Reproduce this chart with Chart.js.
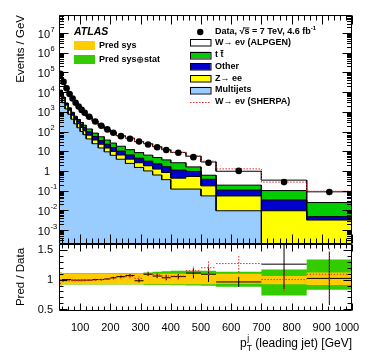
<!DOCTYPE html>
<html><head><meta charset="utf-8">
<script src="https://cdn.jsdelivr.net/npm/chart.js@4.4.1/dist/chart.umd.min.js"></script>
<style>
html,body{margin:0;padding:0;background:#fff;}
#wrap{position:relative;width:374px;height:359px;background:#fff;}
canvas{position:absolute;left:0;top:0;}
</style></head><body>
<div id="wrap"><canvas id="ratio" width="374" height="359"></canvas><canvas id="main" width="374" height="359"></canvas></div>
<script>
// ---------------- data ----------------
const binEdges = [30,40,50,60,70,80,90,100,110,120,140,160,180,200,220,250,280,310,340,370,400,450,500,550,700,850,1000];
const dataValues = [85000,33000,15500,8000,4700,2900,1850,1250,900,560,320,195,128,86,58,43,31,22,16,11.5,8.3,5.0,2.6,1.0,0.27,0.085];
const multijets = [6900,2900,1400,750,420,245,155,100,69,42,24,14.6,9.3,6.2,3.9,2.4,1.5,1.0,0.62,0.36,0.12,0.12,0.054,0.0095,0,0];
const zee       = [3800,1700,810,450,255,150,95,61,40,23,13,8.1,5.2,3.6,2.5,1.56,1.1,0.82,0.62,0.47,0.31,0.40,0.12,0.044,0.0095,0.0032];
const other     = [1500,780,450,290,190,130,95,70,50,32,19,11.9,8.1,5.5,3.7,2.5,1.8,1.3,1.05,0.8,0.67,0.42,0.2,0.053,0.024,0.0016];
const ttbar     = [380,220,140,110,85,72,65,58,50,38,27,19.4,14.4,10.7,7.7,5.5,4.1,3.2,2.5,2.0,1.5,0.66,0.23,0.083,0.067,0.020];
const wAlpgen   = [71500,27400,12700,6400,3700,2270,1420,950,680,420,237,141,92,62.6,43.1,34,21.9,17.7,12.2,8.25,6.1,3.95,2.23,0.77,0.24,0.062];
const sherpaTotal = [79900,32000,15200,7840,4600,2840,1810,1225,880,554,317,195,129,87.7,60.3,45.2,31.6,24.2,17.3,12.2,8.8,5.75,3.12,1.27,0.27,0.093];

const ratioAlpgen    = [0.99,1.0,1.0,1.0,0.99,0.99,0.99,0.99,0.99,0.99,1.0,1.0,1.01,1.03,1.05,1.07,0.98,1.09,1.06,1.03,1.05,1.11,1.09,0.96,1.26,1.02];
const ratioAlpgenErr = [0.004,0.004,0.005,0.005,0.006,0.007,0.008,0.009,0.01,0.01,0.012,0.014,0.016,0.018,0.02,0.024,0.028,0.032,0.036,0.042,0.045,0.09,0.13,0.085,0.42,0.45];
const ratioSherpa    = [0.94,0.97,0.98,0.98,0.98,0.98,0.98,0.98,0.98,0.99,0.99,1.0,1.01,1.02,1.04,1.05,1.02,1.10,1.08,1.06,1.06,1.15,1.2,1.27,1.0,1.09];
const ratioSherpaErr = [0.02,0.01,0.01,0.01,0.01,0.01,0.01,0.012,0.012,0.014,0.016,0.018,0.02,0.022,0.025,0.03,0.035,0.04,0.045,0.05,0.055,0.08,0.12,0.15,0.2,0.45];
const sysLo = [0.9,0.92,0.92,0.92,0.92,0.92,0.92,0.92,0.92,0.92,0.92,0.92,0.92,0.92,0.92,0.92,0.92,0.92,0.92,0.92,0.92,0.92,0.92,0.93,0.92,0.91];
const sysHi = [1.12,1.1,1.1,1.1,1.1,1.1,1.1,1.1,1.1,1.1,1.1,1.1,1.1,1.1,1.1,1.1,1.1,1.1,1.1,1.1,1.1,1.1,1.1,1.1,1.06,1.12];
const totLo = [0.9,0.915,0.915,0.915,0.915,0.915,0.915,0.915,0.915,0.915,0.915,0.915,0.915,0.915,0.915,0.915,0.915,0.91,0.91,0.91,0.905,0.9,0.895,0.88,0.73,0.83];
const totHi = [1.12,1.105,1.105,1.105,1.105,1.105,1.105,1.105,1.105,1.105,1.105,1.105,1.105,1.105,1.105,1.105,1.105,1.12,1.13,1.14,1.15,1.15,1.15,1.13,1.17,1.34];

const xTickLabels = [100,200,300,400,500,600,700,800,900,1000];
const yDecades = [-3,-2,-1,0,1,2,3,4,5,6,7];
const ratioTickLabels = [0.5,1,1.5];

// ---------------- helpers ----------------
const Y_MIN = 1.95e-4, Y_MAX = 8.2e7;
const R_MIN = 0.47, R_MAX = 1.6;
const FF = '"Liberation Sans", Arial, Helvetica, sans-serif';
const centers = binEdges.slice(0, -1).map((e, i) => (e + binEdges[i + 1]) / 2);

function histPoints(vals, floor) {
  const pts = [];
  vals.forEach((v, i) => {
    const y = v > 0 ? v : floor;
    pts.push({x: binEdges[i], y}, {x: binEdges[i + 1], y});
  });
  return pts;
}
function cumulate(...arrs) { return arrs[0].map((_, i) => arrs.reduce((s, a) => s + a[i], 0)); }
function crossPoints(vals, errs) {
  const pts = [];
  vals.forEach((v, i) => {
    pts.push({x: binEdges[i], y: v}, {x: binEdges[i + 1], y: v}, {x: binEdges[i + 1], y: null});
    pts.push({x: centers[i], y: v - errs[i]}, {x: centers[i], y: v + errs[i]}, {x: centers[i], y: null});
  });
  return pts;
}
function rich(ctx, parts, x, y, align) {
  let w = 0;
  for (const p of parts) { ctx.font = p.f; if (p.adv !== false) w += (p.w !== undefined ? p.w : ctx.measureText(p.t).width); }
  let cx = align === 'right' ? x - w : (align === 'center' ? x - w / 2 : x);
  for (const p of parts) {
    ctx.font = p.f;
    const pw = p.w !== undefined ? p.w : ctx.measureText(p.t).width;
    if (p.draw) p.draw(cx, y); else ctx.fillText(p.t, cx + (p.dx || 0), y + (p.dy || 0));
    if (p.over !== undefined) ctx.fillRect(cx + (p.ox || 0), y + p.over, pw - (p.ox || 0), 0.9);
    if (p.adv !== false) cx += pw;
  }
  return w;
}

function frameAndTicks(chart, cfg) {
  const {ctx, chartArea: a, scales} = chart;
  const xs = scales.x, ys = scales.y;
  const L = Math.round(a.left) + 0.5, R = Math.round(a.right) - 0.5;
  const T = Math.round(a.top) + 0.5, B = Math.round(a.bottom) - 0.5;
  ctx.save();
  ctx.strokeStyle = '#000'; ctx.lineWidth = 1;
  ctx.beginPath();
  ctx.rect(L, T, R - L, B - T);
  for (let v = 40; v <= 1000; v += 20) {
    const px = Math.round(xs.getPixelForValue(v)) + 0.5;
    const len = v % 100 === 0 ? cfg.xMaj : cfg.xMin;
    ctx.moveTo(px, B); ctx.lineTo(px, B - len);
    ctx.moveTo(px, T); ctx.lineTo(px, T + len);
  }
  for (const [v, major] of cfg.yTicks) {
    if (v < ys.min || v > ys.max) continue;
    const py = Math.round(ys.getPixelForValue(v)) + 0.5;
    const len = major ? cfg.yMaj : cfg.yMin;
    ctx.moveTo(L, py); ctx.lineTo(L + len, py);
    ctx.moveTo(R, py); ctx.lineTo(R - len, py);
  }
  ctx.stroke();
  ctx.restore();
}

// ---------------- main panel plugin ----------------
const mainPlugin = {
  id: 'mainDecor',
  afterDraw(chart) {
    const yt = [];
    for (let d = -4; d <= 7; d++) for (let k = 1; k <= 9; k++) yt.push([k * Math.pow(10, d), k === 1]);
    frameAndTicks(chart, {xMaj: 9, xMin: 5, yMaj: 9, yMin: 4.5, yTicks: yt});
    const {ctx, scales} = chart;
    const ys = scales.y;
    ctx.save();
    ctx.fillStyle = '#000';
    ctx.textBaseline = 'middle';
    for (const e of yDecades) {
      const py = ys.getPixelForValue(Math.pow(10, e));
      ctx.font = '11px ' + FF; ctx.textAlign = 'right';
      if (e === 0 || e === 1) {
        ctx.fillText(e === 0 ? '1' : '10', 50, py + 1);
      } else {
        ctx.fillText('10', 50, py + 1.5);
        ctx.font = '7.5px ' + FF; ctx.textAlign = 'left';
        ctx.fillText(String(e), 50.5, py - 3.5);
      }
    }
    ctx.save();
    ctx.translate(21, 15);
    ctx.rotate(-Math.PI / 2);
    ctx.font = '11.5px ' + FF; ctx.textAlign = 'right'; ctx.textBaseline = 'middle';
    ctx.fillText('Events / GeV', 0, 0);
    ctx.restore();

    // left legend
    ctx.textAlign = 'left'; ctx.textBaseline = 'middle';
    ctx.font = 'italic bold 10.5px ' + FF;
    ctx.fillText('ATLAS', 74, 32);
    ctx.fillStyle = '#ffcc00'; ctx.fillRect(74, 41, 21, 9);
    ctx.fillStyle = '#33cc00'; ctx.fillRect(74, 55, 21, 9);
    ctx.fillStyle = '#000';
    const B9 = 'bold 9px ' + FF, B6 = 'bold 6px ' + FF;
    rich(ctx, [{t: 'Pred sys', f: B9}], 99, 46);
    const oplus = (x, y) => {
      ctx.save(); ctx.strokeStyle = '#000'; ctx.lineWidth = 0.8;
      ctx.beginPath(); ctx.arc(x + 3.6, y + 0.3, 2.7, 0, Math.PI * 2);
      ctx.moveTo(x + 0.9, y + 0.3); ctx.lineTo(x + 6.3, y + 0.3);
      ctx.moveTo(x + 3.6, y - 2.4); ctx.lineTo(x + 3.6, y + 3.0);
      ctx.stroke(); ctx.restore();
    };
    rich(ctx, [{t: 'Pred sys', f: B9}, {t: '', f: B9, w: 7.4, draw: oplus}, {t: 'stat', f: B9}], 99, 59.5);

    // right legend
    const bx = 190, bw = 20.5, bh = 6.5, tx = 215;
    const rows = [32, 42.5, 55, 66.5, 78.5, 90, 102];
    ctx.beginPath(); ctx.arc(bx + bw / 2, rows[0], 3.2, 0, Math.PI * 2); ctx.fill();
    const boxes = [['#ffffff', rows[1]], ['#00cc00', rows[2]], ['#0000cc', rows[3]], ['#ffff00', rows[4]], ['#99ccff', rows[5]]];
    ctx.lineWidth = 1; ctx.strokeStyle = '#000';
    for (const [c, y] of boxes) {
      ctx.fillStyle = c; ctx.fillRect(bx, y - bh / 2, bw, bh);
      ctx.strokeRect(bx + 0.5, Math.round(y - bh / 2) + 0.5, bw, bh);
    }
    ctx.strokeStyle = 'rgb(235,40,40)'; ctx.setLineDash([1.5, 1.5]);
    ctx.beginPath(); ctx.moveTo(bx, rows[6] + 0.5); ctx.lineTo(bx + bw, rows[6] + 0.5); ctx.stroke();
    ctx.setLineDash([]);
    ctx.fillStyle = '#000';
    rich(ctx, [{t: 'Data, ', f: B9}, {t: '\u221A', f: B9}, {t: 's', f: B9, over: -4.5, ox: -1}, {t: ' = 7 TeV, 4.6 fb', f: B9}, {t: '-1', f: B6, dy: -3.5}], tx, rows[0]);
    rich(ctx, [{t: 'W\u2192 e\u03BD (ALPGEN)', f: B9}], tx, rows[1]);
    rich(ctx, [{t: 't ', f: B9}, {t: 't', f: B9, over: -5}], tx, rows[2]);
    rich(ctx, [{t: 'Other', f: B9}], tx, rows[3]);
    rich(ctx, [{t: 'Z\u2192 ee', f: B9}], tx, rows[4]);
    rich(ctx, [{t: 'Multijets', f: B9}], tx, rows[5]);
    rich(ctx, [{t: 'W\u2192 e\u03BD (SHERPA)', f: B9}], tx, rows[6]);
    ctx.restore();
  }
};

// ---------------- ratio panel plugin ----------------
const ratioPlugin = {
  id: 'ratioDecor',
  afterDraw(chart) {
    const yt = [];
    for (let k = 5; k <= 16; k++) yt.push([k / 10, k % 5 === 0]);
    frameAndTicks(chart, {xMaj: 7, xMin: 4, yMaj: 8, yMin: 4, yTicks: yt});
    const {ctx, scales} = chart;
    const xs = scales.x, ys = scales.y;
    ctx.save();
    ctx.fillStyle = '#000';
    ctx.font = '11px ' + FF; ctx.textBaseline = 'middle';
    ctx.textAlign = 'right';
    for (const v of ratioTickLabels) ctx.fillText(String(v), 53, ys.getPixelForValue(v) + 0.5);
    ctx.textAlign = 'center';
    xTickLabels.forEach((v, i) => {
      const px = xs.getPixelForValue(v) - (i === xTickLabels.length - 1 ? 5 : 0);
      ctx.fillText(String(v), px, 327.5);
    });
    ctx.save();
    ctx.translate(21, 277);
    ctx.rotate(-Math.PI / 2);
    ctx.font = '11.5px ' + FF; ctx.textAlign = 'center'; ctx.textBaseline = 'middle';
    ctx.fillText('Pred / Data', 0, 0);
    ctx.restore();
    ctx.textAlign = 'left'; ctx.textBaseline = 'alphabetic';
    const F12 = '12px ' + FF, F8 = '8.5px ' + FF;
    rich(ctx, [{t: 'p', f: F12}, {t: 'j', f: F8, dy: -6, adv: false, dx: 0.5}, {t: 'T', f: F8, dy: 3.5}, {t: ' (leading jet) [GeV]', f: F12}], 352, 347, 'right');
    ctx.restore();
  }
};

// ---------------- charts ----------------
const c1 = multijets;
const c2 = cumulate(multijets, zee);
const c3 = cumulate(multijets, zee, other);
const c4 = cumulate(multijets, zee, other, ttbar);
const c5 = cumulate(multijets, zee, other, ttbar, wAlpgen);
const dataPts = dataValues.map((v, i) => ({x: centers[i], y: v}));

const histStyle = {borderColor: '#000', borderWidth: 1, pointRadius: 0, tension: 0, fill: 'start'};

new Chart(document.getElementById('main'), {
  type: 'line',
  data: {datasets: [
    {label: 'W ALPGEN', data: histPoints(c5, Y_MIN), backgroundColor: '#ffffff', order: 9, ...histStyle},
    {label: 'ttbar', data: histPoints(c4, Y_MIN), backgroundColor: '#00cc00', order: 8, ...histStyle},
    {label: 'Other', data: histPoints(c3, Y_MIN), backgroundColor: '#0000cc', order: 7, ...histStyle},
    {label: 'Z->ee', data: histPoints(c2, Y_MIN), backgroundColor: '#ffff00', order: 6, ...histStyle},
    {label: 'Multijets', data: histPoints(c1, Y_MIN), backgroundColor: '#99ccff', order: 5, ...histStyle},
    {label: 'W SHERPA', data: histPoints(sherpaTotal, Y_MIN), borderColor: 'rgb(235,40,40)', borderWidth: 1, borderDash: [1.5, 1.5], fill: false, pointRadius: 0, order: 2},
    {label: 'Data', type: 'scatter', data: dataPts, pointRadius: 3.3, pointBackgroundColor: '#000', pointBorderColor: '#000', pointBorderWidth: 0, showLine: false, order: 1}
  ]},
  options: {
    responsive: false, animation: false, events: [],
    layout: {padding: {left: 59, right: 22, top: 15, bottom: 115}},
    plugins: {legend: {display: false}, tooltip: {enabled: false}},
    scales: {
      x: {type: 'linear', min: 30, max: 1000, display: false},
      y: {type: 'logarithmic', min: Y_MIN, max: Y_MAX, display: false}
    }
  },
  plugins: [mainPlugin]
});

new Chart(document.getElementById('ratio'), {
  type: 'line',
  data: {datasets: [
    {label: 'totLo', data: histPoints(totLo), borderWidth: 0, pointRadius: 0, fill: false, order: 6},
    {label: 'Pred sys+stat', data: histPoints(totHi), borderWidth: 0, pointRadius: 0, backgroundColor: '#33cc00', fill: '-1', order: 5},
    {label: 'sysLo', data: histPoints(sysLo), borderWidth: 0, pointRadius: 0, fill: false, order: 4},
    {label: 'Pred sys', data: histPoints(sysHi), borderWidth: 0, pointRadius: 0, backgroundColor: '#ffcc00', fill: '-1', order: 3},
    {label: 'ALPGEN/Data', data: crossPoints(ratioAlpgen, ratioAlpgenErr), borderColor: '#000', borderWidth: 1, pointRadius: 0, fill: false, spanGaps: false, order: 2},
    {label: 'SHERPA/Data', data: crossPoints(ratioSherpa, ratioSherpaErr), borderColor: 'rgb(235,40,40)', borderWidth: 1, borderDash: [1.5, 1.5], pointRadius: 0, fill: false, spanGaps: false, order: 1}
  ]},
  options: {
    responsive: false, animation: false, events: [],
    layout: {padding: {left: 59, right: 22, top: 244, bottom: 48}},
    plugins: {legend: {display: false}, tooltip: {enabled: false}},
    scales: {
      x: {type: 'linear', min: 30, max: 1000, display: false},
      y: {type: 'linear', min: R_MIN, max: R_MAX, display: false}
    }
  },
  plugins: [ratioPlugin]
});
</script>
</body></html>
